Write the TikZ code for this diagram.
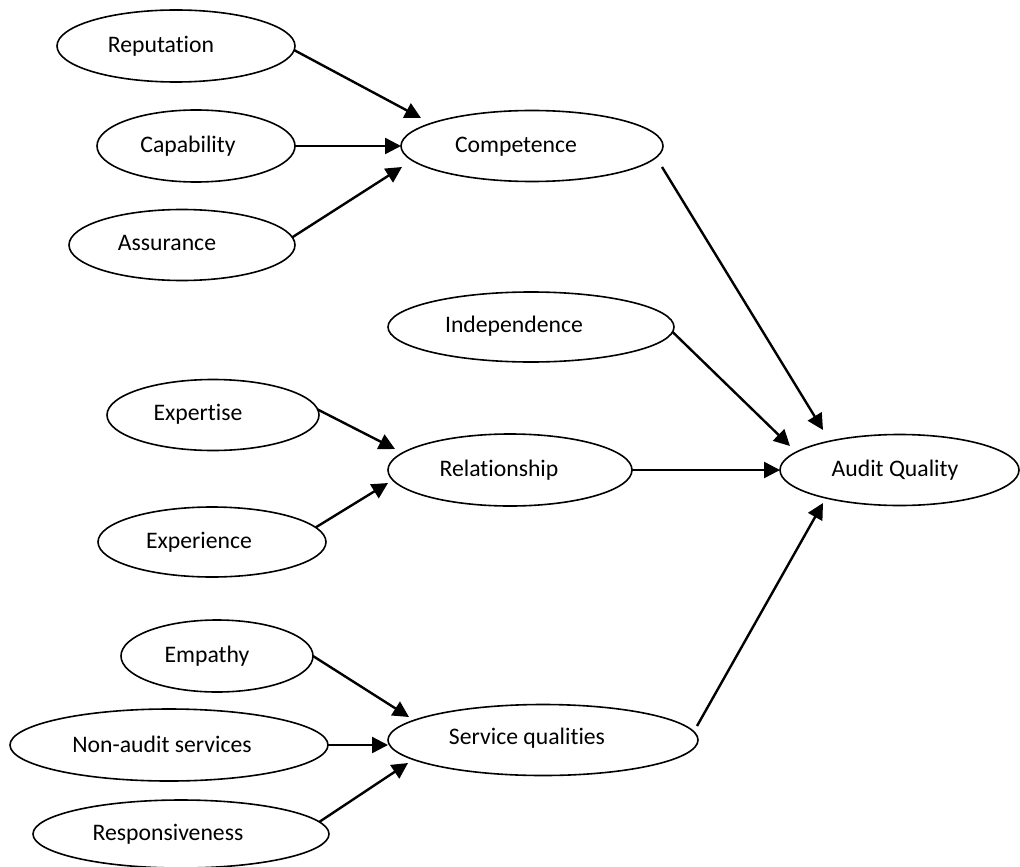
\documentclass[tikz,border=0pt]{standalone}
\usepackage{fontspec}
\setmainfont{Carlito}[Ligatures={NoCommon}]
\usetikzlibrary{shapes.geometric,arrows.meta}
\begin{document}
\begin{tikzpicture}[x=0.5pt,y=-0.5pt,
  ell/.style={draw,ellipse,line width=0.8pt,inner sep=0pt,outer sep=0pt},
  lbl/.style={anchor=base,inner sep=0pt,font=\fontsize{11.85}{14}\selectfont},
  arr/.style={line width=1.2pt,-{Triangle[length=8pt,width=8pt]}}]
\useasboundingbox (0,0) rectangle (1020,866);
% ellipses
\node[ell,minimum width=119pt,minimum height=36pt] (rep) at (176,46) {};
\node[ell,minimum width=99pt,minimum height=36pt] (cap) at (196,146) {};
\node[ell,minimum width=113pt,minimum height=35.5pt] (ass) at (182,245) {};
\node[ell,minimum width=131pt,minimum height=35.5pt] (comp) at (532,146) {};
\node[ell,minimum width=143pt,minimum height=35pt] (ind) at (531,327) {};
\node[ell,minimum width=106pt,minimum height=35.5pt] (exp) at (213,415) {};
\node[ell,minimum width=114pt,minimum height=35pt] (expc) at (212,542) {};
\node[ell,minimum width=122pt,minimum height=36pt] (rel) at (510,470) {};
\node[ell,minimum width=119.5pt,minimum height=35.5pt] (aq) at (899.5,470) {};
\node[ell,minimum width=96pt,minimum height=36pt] (emp) at (217,656) {};
\node[ell,minimum width=159pt,minimum height=36pt] (na) at (169,745) {};
\node[ell,minimum width=155pt,minimum height=35.5pt] (sq) at (543,740) {};
\node[ell,minimum width=148pt,minimum height=34pt] (resp) at (181,834) {};
% labels
\node[lbl] (rep-t) at (161,52.5) {Reputation};
\node[lbl] (cap-t) at (188,152.5) {Capability};
\node[lbl] (ass-t) at (167,250.5) {Assurance};
\node[lbl] (comp-t) at (516,152.5) {Competence};
\node[lbl] (ind-t) at (514,332.5) {Independence};
\node[lbl] (exp-t) at (198,420.5) {Expertise};
\node[lbl] (expc-t) at (199,548.5) {Experience};
\node[lbl] (rel-t) at (499,476.5) {Relationship};
\node[lbl] (aq-t) at (895,476.5) {Audit Quality};
\node[lbl] (emp-t) at (207,662.5) {Empathy};
\node[lbl] (na-t) at (162,752.5) {Non-audit services};
\node[lbl] (sq-t) at (527,744.5) {Service qualities};
\node[lbl] (resp-t) at (168,840.5) {Responsiveness};
% free ends of connectors
\coordinate (t-rep) at (421,118);
\coordinate (t-ass) at (402,167);
\coordinate (s-comp) at (662,167);
\coordinate (t-comp) at (823,430);
\coordinate (t-ind) at (790,446);
\coordinate (s-sq) at (697,726);
\coordinate (t-sq) at (823,503);
\coordinate (t-exp) at (395,449);
\coordinate (t-expc) at (388,483);
\coordinate (t-emp) at (409,717);
\coordinate (t-na) at (388,745);
\coordinate (t-resp) at (408,763);
% connectors
\draw[arr] (rep.-2) -- (t-rep);
\draw[arr] (cap.east) -- (comp.west);
\draw[arr] (ass.4) -- (t-ass);
\draw[arr] (s-comp) -- (t-comp);
\draw[arr] (ind.-2) -- (t-ind);
\draw[arr] (rel.east) -- (aq.west);
\draw[arr] (s-sq) -- (t-sq);
\draw[arr] (exp.3) -- (t-exp);
\draw[arr] (expc.8) -- (t-expc);
\draw[arr] (emp.east) -- (t-emp);
\draw[arr] (na.east) -- (t-na);
\draw[arr] (resp.5) -- (t-resp);
\end{tikzpicture}
\end{document}
